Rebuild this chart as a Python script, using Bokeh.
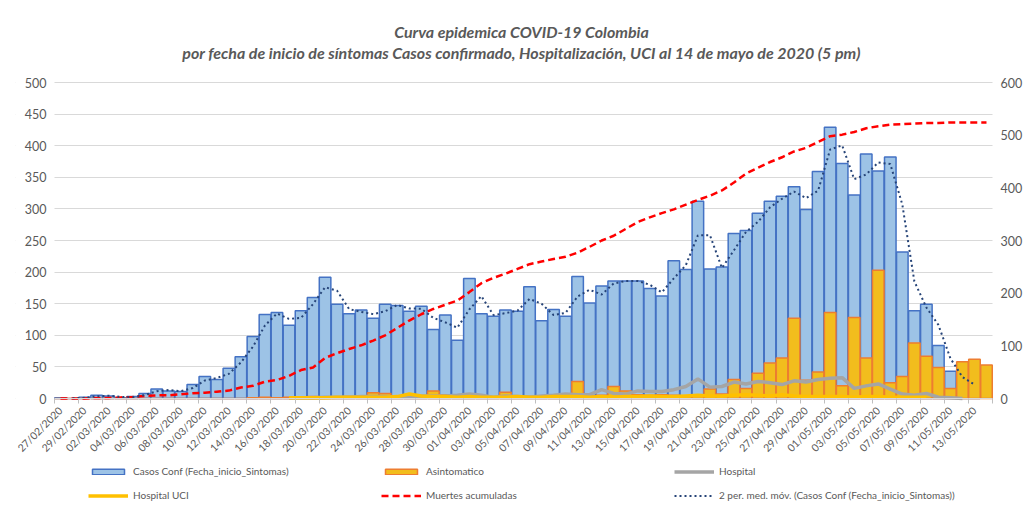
import math
import pandas as pd
from bokeh.plotting import figure
from bokeh.models import Range1d, LinearAxis, FixedTicker, Legend, LegendItem, Title, BoxAnnotation
from bokeh.embed import file_html
from bokeh.resources import INLINE

nan = float("nan")

# Categories: daily dates 27/02/2020 .. 14/05/2020
fechas = pd.date_range("2020-02-27", "2020-05-14").strftime("%d/%m/%Y").tolist()

# Casos Conf (Fecha_inicio_Sintomas)
casos = [1, 0, 2, 5, 4, 1, 3, 8, 15, 12,
         11, 22, 35, 30, 48, 66, 98, 133, 136, 116,
         139, 160, 192, 149, 134, 140, 127, 149, 147, 138,
         146, 109, 132, 92, 190, 134, 130, 140, 138, 177,
         123, 141, 130, 193, 151, 178, 186, 186, 186, 174,
         162, 218, 204, 312, 205, 208, 261, 266, 293, 312,
         320, 335, 299, 359, 429, 372, 322, 387, 360, 382,
         232, 139, 149, 84, 43, 25, 19, nan]

# Asintomatico
asinto = [0, 0, 0, 0, 0, 0, 0, 0, 0, 0,
          0, 0, 0, 0, 0, 0, 1, 2, 1, 2,
          1, 3, 2, 2, 3, 2, 9, 8, 3, 2,
          4, 12, 6, 3, 3, 4, 2, 10, 4, 3,
          2, 6, 3, 27, 4, 5, 19, 12, 6, 5,
          6, 5, 4, 5, 15, 7, 30, 16, 40, 56,
          64, 127, 29, 42, 136, 20, 128, 64, 203, 25,
          35, 88, 67, 49, 16, 58, 62, 53]

# Hospital
hospital = [nan] * 19 + [
    1, 1, 1, 2, 2, 2, 3, 3, 3, 2,
    3, 4, 4, 4, 5, 7, 5, 2, 4, 3,
    2, 4, 5, 7, 6, 6, 14, 8, 7, 12,
    11, 11, 14, 19, 31, 18, 19, 26, 23, 27,
    25, 22, 28, 26, 30, 32, 33, 16, 20, 23,
    15, 7, 5, 8, 2, 1, 0] + [nan] * 2

# Hospital UCI
uci = [nan] * 19 + [
    1, 1, 1, 1, 2, 2, 2, 2, 2, 3,
    7, 4, 3, 3, 2, 3, 2, 2, 2, 3,
    2, 2, 3, 3, 3, 2, 3, 2, 3, 3,
    4, 3, 3, 4, 5, 4, 4, 5, 6, 5,
    4, 6, 4, 3, 3, 3, 3, 2, 3, 3,
    2, 2, 2, 2] + [nan] * 5

# Muertes acumuladas (eje derecho)
muertes = [0, 0, 0, 1, 1, 2, 3, 5, 6, 6,
           8, 10, 11, 13, 15, 21, 24, 32, 35, 43,
           54, 59, 77, 86, 94, 101, 110, 120, 134, 148,
           160, 170, 178, 186, 202, 219, 229, 237, 246, 255,
           260, 265, 269, 277, 288, 300, 309, 322, 335, 344,
           352, 359, 368, 377, 385, 395, 410, 427, 438, 449,
           458, 469, 476, 487, 498, 501, 506, 513, 517, 520,
           521, 522, 523, 523, 524, 524, 524, 524]

x = list(range(len(fechas)))
media_movil = pd.Series(casos).rolling(2).mean().tolist()

GRAY = "#595959"
FONT = "Lato"

# Layout: the value area (0..500 by 78 days) is 938 x 316 px; the frame extends
# around it so that axis labels and the legend are drawn inside it unclipped.
N = len(fechas)
AREA_W, AREA_H = 938, 316
LEFT_PX, RIGHT_PX, TOP_PX, BELOW_PX = 39, 35, 10, 110
y_min = -BELOW_PX * 500 / AREA_H
y_max = 500 + TOP_PX * 500 / AREA_H
x_min = -0.5 - LEFT_PX * N / AREA_W
x_max = N - 0.5 + RIGHT_PX * N / AREA_W

p = figure(frame_width=AREA_W + LEFT_PX + RIGHT_PX, frame_height=AREA_H + BELOW_PX + TOP_PX,
           x_range=Range1d(x_min, x_max), y_range=Range1d(y_min, y_max),
           output_backend="svg", toolbar_location=None,
           title="Curva epidemica COVID-19 Colombia",
           min_border_left=15, min_border_right=0, min_border_top=72, min_border_bottom=0)
p.extra_y_ranges = {"right": Range1d(y_min * 600 / 500, y_max * 600 / 500)}

p.title.text_font = FONT
p.title.text_font_style = "bold italic"
p.title.text_font_size = "16px"
p.title.text_color = GRAY
p.title.align = "center"
p.title.standoff = -23
t2 = Title(text="por fecha de inicio de síntomas Casos confirmado, Hospitalización, UCI al 14 de mayo de 2020 (5 pm)",
           text_font=FONT, text_font_style="bold italic",
           text_font_size="16px", text_color=GRAY, align="center", standoff=22)
p.add_layout(t2, "above")

p.outline_line_color = None
p.xgrid.grid_line_color = None
p.ygrid.grid_line_color = "#D9D9D9"
p.ygrid.ticker = FixedTicker(ticks=list(range(0, 501, 50)))
# keep the gridlines out of the label margins
p.add_layout(BoxAnnotation(right=-0.5, fill_color="white", fill_alpha=1.0,
                           line_color=None, level="underlay"))
p.add_layout(BoxAnnotation(left=N - 0.5, fill_color="white", fill_alpha=1.0,
                           line_color=None, level="underlay"))

r_casos = p.vbar(x=x, top=casos, width=0.96, fill_color="#9DC3E6", line_color="#4472C4", line_width=1.5)
r_asinto = p.vbar(x=x, top=asinto, width=0.96, fill_color="#F2BD1D", line_color="#ED7D31", line_width=1.5)
r_hosp = p.line(x=x, y=hospital, line_color="#A5A5A5", line_width=3.5)
r_uci = p.line(x=x, y=uci, line_color="#FFC000", line_width=3.5)
r_muertes = p.line(x=x, y=muertes, y_range_name="right", line_color="#FF0000", line_width=2.5, line_dash="7 4")
r_ma = p.line(x=x, y=media_movil, line_color="#264478", line_width=2, line_dash="2 3")

# Y axes
ya = p.yaxis[0]
ya.fixed_location = -0.5
ya.ticker = FixedTicker(ticks=list(range(0, 501, 50)))
yr = LinearAxis(y_range_name="right", ticker=FixedTicker(ticks=list(range(0, 601, 100))))
yr.fixed_location = N - 0.5
p.add_layout(yr, "right")
for ax in [ya, yr]:
    ax.axis_line_color = None
    ax.major_tick_line_color = None
    ax.minor_tick_line_color = None
    ax.major_tick_out = 0
    ax.major_tick_in = 0
    ax.major_label_text_font = FONT
    ax.major_label_text_font_size = "12.5px"
    ax.major_label_text_color = GRAY
ya.major_label_standoff = 8
yr.major_label_standoff = 8

# X axis, drawn at value 0
xa = p.xaxis[0]
xa.fixed_location = 0
xa.bounds = (-0.5, N - 0.5)
even = list(range(0, N, 2))
xa.ticker = FixedTicker(ticks=even, minor_ticks=[i - 0.5 for i in range(0, N + 1, 2)])
xa.major_label_overrides = {i: fechas[i] for i in even}
xa.major_label_orientation = math.pi / 4
xa.major_label_text_font = FONT
xa.major_label_text_font_size = "10.5px"
xa.major_label_text_color = GRAY
xa.axis_line_color = "#D9D9D9"
xa.major_tick_line_color = None
xa.minor_tick_line_color = "#BFBFBF"
xa.minor_tick_out = 5
xa.minor_tick_in = 0
xa.major_label_standoff = 4

leg = Legend(items=[LegendItem(label="Casos Conf (Fecha_inicio_Sintomas)", renderers=[r_casos]),
                    LegendItem(label="Asintomatico", renderers=[r_asinto]),
                    LegendItem(label="Hospital", renderers=[r_hosp]),
                    LegendItem(label="Hospital UCI", renderers=[r_uci]),
                    LegendItem(label="Muertes acumuladas", renderers=[r_muertes]),
                    LegendItem(label="2 per. med. móv. (Casos Conf (Fecha_inicio_Sintomas))", renderers=[r_ma])],
             location=(34 + LEFT_PX, 5), orientation="horizontal", ncols=3,
             padding=0, margin=0, spacing=8, glyph_width=40, glyph_height=7,
             label_standoff=5, label_width=240, label_height=16, label_text_font=FONT,
             label_text_font_size="10px", label_text_color=GRAY,
             border_line_color=None, background_fill_alpha=0)
p.add_layout(leg)

open("out.html", "w").write(file_html(p, INLINE))
